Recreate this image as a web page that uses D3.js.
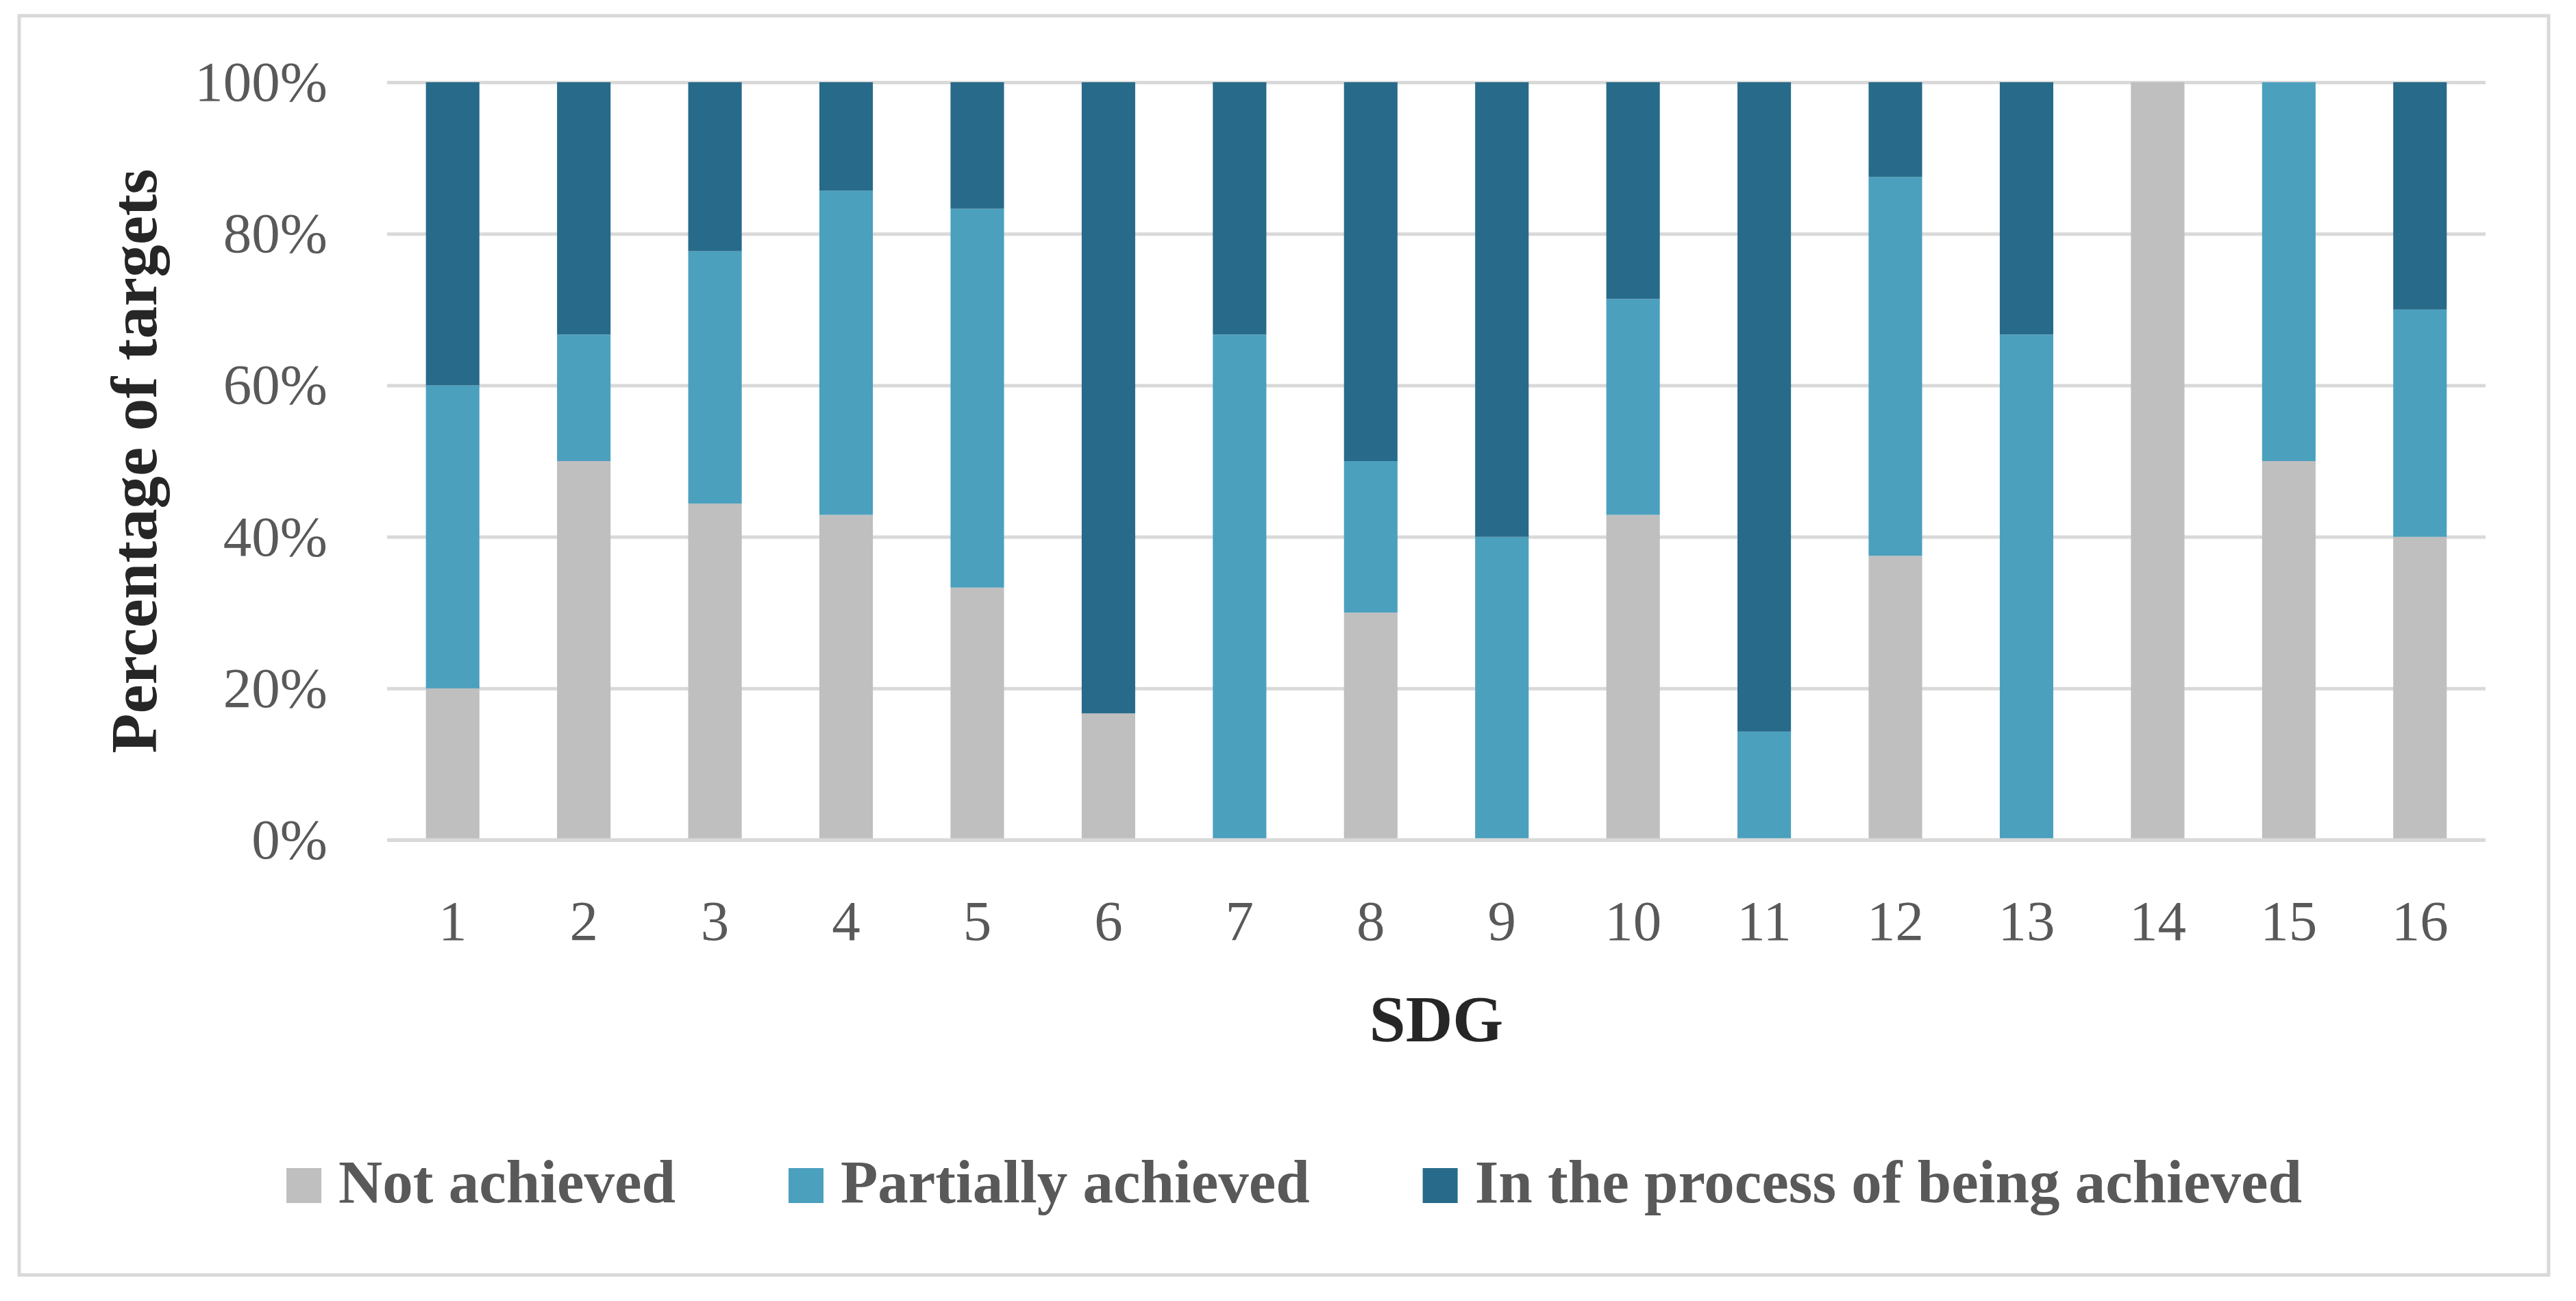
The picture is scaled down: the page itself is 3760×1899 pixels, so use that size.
<!DOCTYPE html>
<html>
<head>
<meta charset="utf-8">
<script src="https://cdn.jsdelivr.net/npm/d3@7"></script>
<style>
  body { margin: 0; background: #fff; }
  svg { display: block; }
</style>
</head>
<body>
<script>
// SDG goals on the x axis
const sdgs = ["1","2","3","4","5","6","7","8","9","10","11","12","13","14","15","16"];

// share of targets per status (%)
const notAchieved       = [20, 50, 44.4, 42.9, 33.3, 16.7, 0, 30, 0, 42.9, 0, 37.5, 0, 100, 50, 40];
const partiallyAchieved = [40, 16.7, 33.3, 42.8, 50, 0, 66.7, 20, 40, 28.5, 14.3, 50, 66.7, 0, 50, 30];
const inProcess         = [40, 33.3, 22.3, 14.3, 16.7, 83.3, 33.3, 50, 60, 28.6, 85.7, 12.5, 33.3, 0, 0, 30];

const seriesNames = ["Not achieved", "Partially achieved", "In the process of being achieved"];
const yTicks = [0, 20, 40, 60, 80, 100];

const W = 3760, H = 1899;
const margin = {top: 120, right: 132, bottom: 673, left: 565};
const width = W - margin.left - margin.right,
      height = H - margin.top - margin.bottom;

const colors = d3.scaleOrdinal()
  .domain(seriesNames)
  .range(["#bfbfbf", "#4ba0be", "#286a89"]);

const rows = sdgs.map((s, i) => ({
  sdg: s,
  "Not achieved": notAchieved[i],
  "Partially achieved": partiallyAchieved[i],
  "In the process of being achieved": inProcess[i]
}));

const stacked = d3.stack().keys(seriesNames)(rows);

const x = d3.scaleBand().domain(sdgs).range([0, width]).paddingInner(0.592).paddingOuter(0.296);
const y = d3.scaleLinear().domain([0, 100]).range([height, 0]);

const svg = d3.select("body").append("svg")
  .attr("width", W)
  .attr("height", H);

// outer frame
svg.append("rect")
  .attr("x", 28).attr("y", 23)
  .attr("width", 3692).attr("height", 1838)
  .attr("fill", "#fff")
  .attr("stroke", "#d9d9d9")
  .attr("stroke-width", 5);

const g = svg.append("g")
  .attr("transform", "translate(" + margin.left + "," + margin.top + ")");

// gridlines + y labels
const yAxis = g.append("g")
  .call(d3.axisLeft(y).tickValues(yTicks).tickSize(-width).tickPadding(87).tickFormat(d => d + "%"));
yAxis.select(".domain").remove();
yAxis.selectAll(".tick line").attr("stroke", "#d9d9d9").attr("stroke-width", 5);
yAxis.selectAll(".tick text")
  .attr("fill", "#595959")
  .style("font-family", "'Liberation Serif', serif")
  .style("font-size", "83px");

// stacked bars
g.selectAll(".series")
  .data(stacked)
  .enter().append("g")
    .attr("class", "series")
    .attr("fill", d => colors(d.key))
  .selectAll("rect")
  .data(d => d)
  .enter().append("rect")
    .attr("x", d => x(d.data.sdg))
    .attr("y", d => y(Math.min(d[1], 100)))
    .attr("width", x.bandwidth())
    .attr("height", d => y(d[0]) - y(Math.min(d[1], 100)));

// x axis (category labels)
const xAxis = g.append("g")
  .attr("transform", "translate(0," + height + ")")
  .call(d3.axisBottom(x).tickSize(0).tickPadding(87));
xAxis.select(".domain").remove();
xAxis.selectAll(".tick text")
  .attr("fill", "#595959")
  .attr("dy", 0)
  .style("font-family", "'Liberation Serif', serif")
  .style("font-size", "83px")
  .attr("y", 1372 - margin.top - height);

// re-draw base line on top of bars
g.append("line")
  .attr("x1", 0).attr("x2", width)
  .attr("y1", y(0)).attr("y2", y(0))
  .attr("stroke", "#d9d9d9").attr("stroke-width", 5);

// axis titles
g.append("text")
  .attr("x", width / 2)
  .attr("y", 1520 - margin.top)
  .attr("text-anchor", "middle")
  .attr("fill", "#262626")
  .style("font-family", "'Liberation Serif', serif")
  .style("font-weight", "bold")
  .style("font-size", "95px")
  .text("SDG");

svg.append("text")
  .attr("transform", "translate(228," + (margin.top + height / 2) + ") rotate(-90)")
  .attr("text-anchor", "middle")
  .attr("fill", "#262626")
  .style("font-family", "'Liberation Serif', serif")
  .style("font-weight", "bold")
  .style("font-size", "95px")
  .text("Percentage of targets");

// legend
const legend = svg.append("g");
let lx = 0;
seriesNames.forEach(name => {
  const item = legend.append("g").attr("transform", "translate(" + lx + ",0)");
  item.append("rect")
    .attr("x", 0).attr("y", 1705)
    .attr("width", 51).attr("height", 51)
    .attr("fill", colors(name));
  const t = item.append("text")
    .attr("x", 76).attr("y", 1755)
    .attr("fill", "#595959")
    .style("font-family", "'Liberation Serif', serif")
    .style("font-weight", "bold")
    .style("font-size", "89px")
    .text(name);
  lx += 76 + t.node().getComputedTextLength() + 165;
});
const legendW = lx - 165;
legend.attr("transform", "translate(" + (1889 - legendW / 2) + ",0)");
</script>
</body>
</html>
